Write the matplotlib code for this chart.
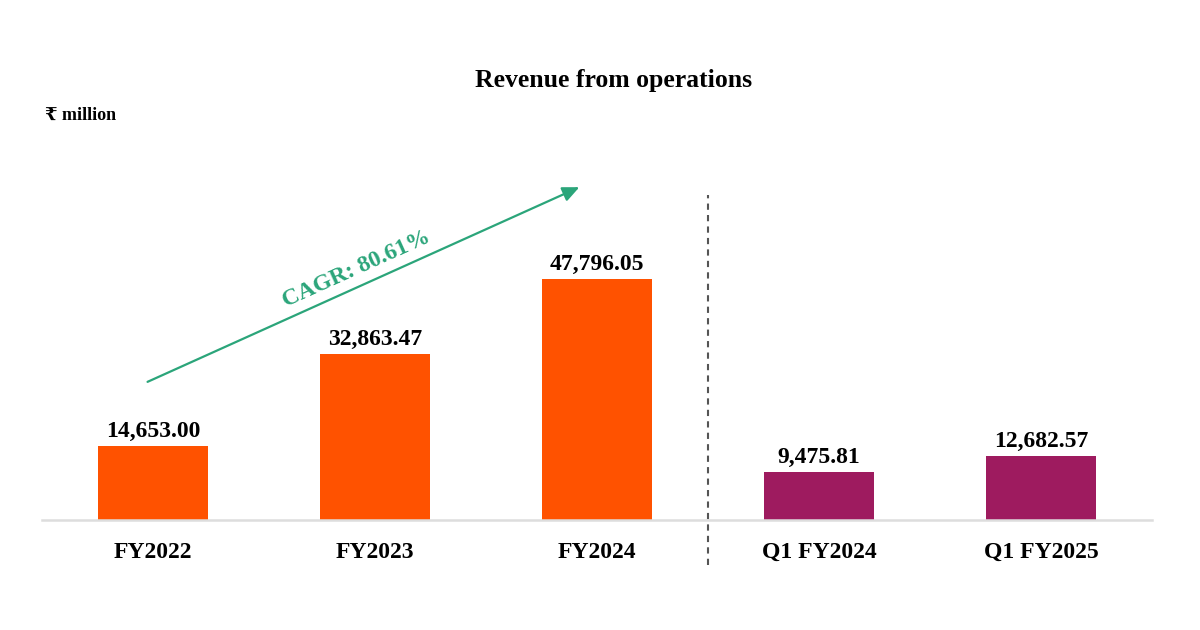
import matplotlib.pyplot as plt
import matplotlib.transforms as mtransforms

plt.rcParams['font.family'] = ['Liberation Serif', 'DejaVu Serif', 'DejaVu Sans']

categories = ["FY2022", "FY2023", "FY2024", "Q1 FY2024", "Q1 FY2025"]
revenue = [14653.00, 32863.47, 47796.05, 9475.81, 12682.57]
value_labels = ["14,653.00", "32,863.47", "47,796.05", "9,475.81", "12,682.57"]
bar_colors = ["#FF5200", "#FF5200", "#FF5200", "#9E1B5F", "#9E1B5F"]
cagr_label = "CAGR: 80.61%"

fig = plt.figure(figsize=(12, 6.3), dpi=100)
ax = fig.add_axes([42 / 1200, 1 - 520 / 630, 1110 / 1200, 390 / 630])

x = range(len(categories))
bars = ax.bar(x, revenue, width=0.495, color=bar_colors, zorder=2)

for b, lab in zip(bars, value_labels):
    ax.annotate(lab, (b.get_x() + b.get_width() / 2, b.get_height()),
                xytext=(0, 3), textcoords="offset points",
                ha="center", va="bottom", fontsize=17, fontweight="bold")

ax.set_xlim(-0.5, 4.5)
ax.set_ylim(0, 77340)
ax.set_xticks(list(x))
ax.set_xticklabels(categories, fontsize=17, fontweight="bold")
ax.tick_params(axis="x", length=0, pad=16)
ax.set_yticks([])
for s in ["top", "right", "left"]:
    ax.spines[s].set_visible(False)
ax.spines["bottom"].set_color("#DDDDDD")
ax.spines["bottom"].set_linewidth(1.8)

# dashed separator between annual and quarterly figures
trans = mtransforms.blended_transform_factory(ax.transData, ax.transAxes)
ax.plot([2.5, 2.5], [-0.115, 0.833], transform=trans, color="#555555",
        linestyle=(0, (3, 2.5)), linewidth=1.5, clip_on=False)

# CAGR arrow
ax.annotate("", xy=(1.932, 66230), xytext=(-0.036, 27170),
            arrowprops=dict(arrowstyle="-|>,head_length=1.0,head_width=0.45",
                            color="#2BA57A", lw=1.6))
ax.text(0.915, 49700, cagr_label, rotation=24.3, rotation_mode="anchor",
        ha="center", va="center", fontsize=17, fontweight="bold", color="#2BA57A")

fig.text(614 / 1200, 1 - 80 / 630, "Revenue from operations", ha="center", va="center",
         fontsize=18.5, fontweight="bold")
fig.text(45 / 1200, 1 - 115 / 630, "₹ million", ha="left", va="center",
         fontsize=13, fontweight="bold")

fig.savefig("out.png", dpi=100, facecolor="white")
